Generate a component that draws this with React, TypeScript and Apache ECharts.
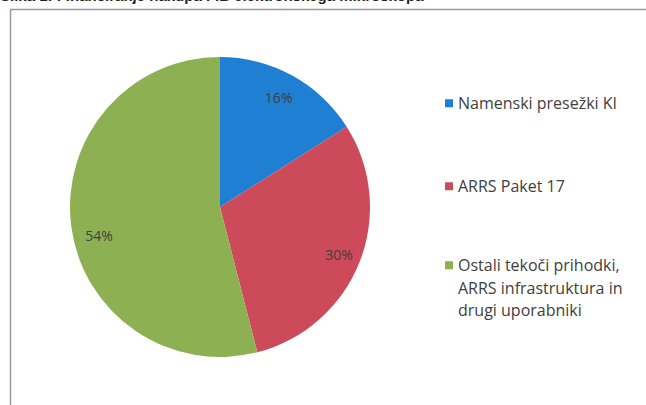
import React, { useEffect, useRef } from "react";
import * as echarts from "echarts";

const categories = [
  "Namenski presežki KI",
  "ARRS Paket 17",
  "Ostali tekoči prihodki, ARRS infrastruktura in drugi uporabniki",
];
const legendLabels = [
  "Namenski presežki KI",
  "ARRS Paket 17",
  "Ostali tekoči prihodki,\nARRS infrastruktura in\ndrugi uporabniki",
];
const shares = [16, 30, 54];
const colors = ["#1f7fd2", "#cd4a5b", "#8db052"];
const titleText = "Slika 1: Financiranje nakupa FIB elektronskega mikroskopa";

export default function App() {
  const ref = useRef<HTMLDivElement>(null);
  useEffect(() => {
    if (!ref.current) return;
    const chart = echarts.init(ref.current, null, { renderer: "svg" });
    const data = categories.map((name, i) => ({
      name,
      value: shares[i],
      itemStyle: { color: colors[i] },
    }));
    const legendText = {
      fontFamily: "Open Sans",
      fontSize: 16,
      color: "#404040",
      lineHeight: 22.5,
    };
    const fmt = (name: string) => legendLabels[categories.indexOf(name)];
    const labelShift = [
      { dx: -3, dy: 3 },
      { dx: 0, dy: 0 },
      { dx: 6, dy: 12 },
    ];
    chart.setOption({
      animation: false,
      backgroundColor: "#ffffff",
      graphic: [
        {
          type: "rect",
          shape: { x: 10.5, y: 9.5, width: 700, height: 500 },
          style: { fill: "none", stroke: "#9a9a9a", lineWidth: 1.5 },
          silent: true,
        },
        {
          type: "text",
          x: 0,
          y: -12,
          style: {
            text: titleText,
            font: "bold 15px 'Liberation Sans'",
            fill: "#222",
          },
        },
      ],
      legend: [0, 1, 2].map((i) => ({
        data: [categories[i]],
        orient: "vertical",
        left: 440,
        top: [87, 170, 249][i],
        itemWidth: 8,
        itemHeight: i === 2 ? 53 : 8,
        icon:
          i === 2
            ? "path://M0,0L8,0L8,8L0,8Z M0,52.9L0.1,52.9L0.1,53L0,53Z"
            : "rect",
        formatter: fmt,
        textStyle: legendText,
        selectedMode: false,
      })),
      series: [
        {
          type: "pie",
          center: [220, 207],
          radius: 150,
          startAngle: 90,
          clockwise: true,
          silent: true,
          label: { show: false },
          labelLine: { show: false },
          data,
        },
        {
          type: "pie",
          center: [220, 207],
          radius: [100, 150],
          startAngle: 90,
          clockwise: true,
          silent: true,
          itemStyle: { color: "rgba(0,0,0,0)" },
          label: {
            show: true,
            position: "inside",
            formatter: "{c}%",
            fontFamily: "Open Sans",
            fontSize: 14,
            color: "#404040",
          },
          labelLayout: (p: any) => labelShift[p.dataIndex],
          labelLine: { show: false },
          data: categories.map((name, i) => ({
            name,
            value: shares[i],
            itemStyle: { color: "rgba(0,0,0,0)" },
          })),
        },
      ],
    });
    return () => chart.dispose();
  }, []);
  return (
    <div
      ref={ref}
      style={{ position: "fixed", left: 0, top: 0, width: 646, height: 405 }}
    />
  );
}
